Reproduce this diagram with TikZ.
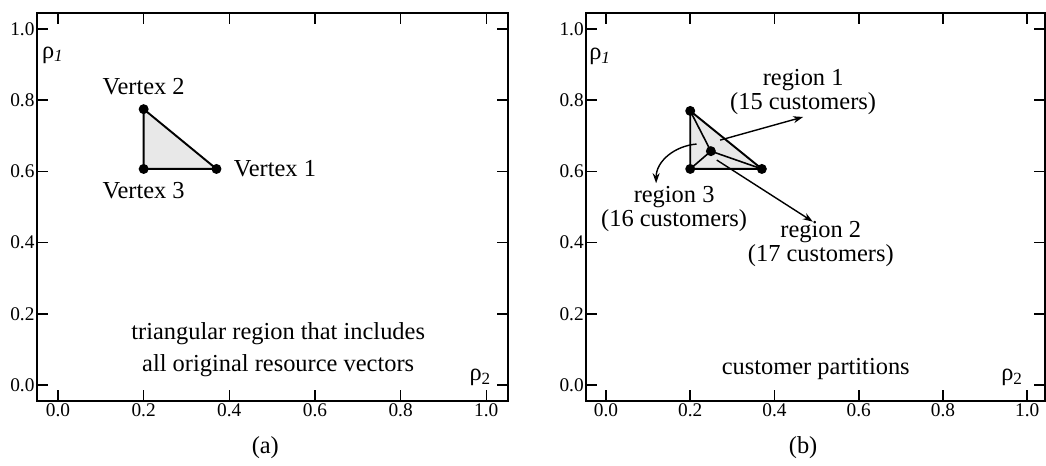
\documentclass[tikz,border=0pt]{standalone}
\usepackage{fontspec}
\setmainfont{Liberation Serif}
\usetikzlibrary{arrows.meta, positioning}
\tikzset{
  frameline/.style={line width=1.1pt},
  tickline/.style={line width=0.9pt},
  ticklabel/.style={font=\fontsize{11}{12}\selectfont, inner sep=1pt},
  axislabel/.style={font=\fontsize{13.9}{14}\selectfont, inner sep=0pt},
  txtlabel/.style={font=\fontsize{13.9}{12.5}\selectfont, inner sep=1pt, align=center},
  notetext/.style={font=\fontsize{13.9}{18.2}\selectfont, inner sep=1pt, align=center},
  captionlabel/.style={font=\fontsize{13.9}{14}\selectfont, inner sep=1pt},
  vertexdot/.style={circle, fill=black, inner sep=0pt, minimum size=0.2cm},
  triedge/.style={line width=1.1pt, line join=round},
  splitedge/.style={line width=0.9pt},
  stipple/.style={fill=black!9},
  regionarrow/.style={-{Stealth[length=0.2cm, width=0.14cm]}, line width=0.8pt}
}

\begin{document}
\begin{tikzpicture}[x=0.02cm, y=-0.02cm]
  \useasboundingbox (0,0) rectangle (1046,466);

  % Panel (a): bounding triangle
  \begin{scope}[shift={(58,385)}, x=8.568cm, y=7.12cm]
    \draw[frameline] (-0.05,-0.045) rectangle (1.05,1.045);
    \foreach \t/\s [count=\i] in {0/0.0,0.2/0.2,0.4/0.4,0.6/0.6,0.8/0.8,1/1.0} {
      \draw[tickline] (\t,-0.045) -- ++(0,0.22cm);
      \draw[tickline] (\t,1.045) -- ++(0,-0.22cm);
      \draw[tickline] (-0.05,\t) -- ++(0.22cm,0);
      \draw[tickline] (1.05,\t) -- ++(-0.22cm,0);
      \node[ticklabel, anchor=east] (ay\i) at (-0.05,\t) {\s};
      \node[ticklabel] (ax\i) at (\t,-0.07) {\s};
    }

    \coordinate (a1) at (0.37,0.607);
    \coordinate (a2) at (0.2,0.775);
    \coordinate (a3) at (0.2,0.607);
    \fill[stipple] (a1) -- (a2) -- (a3) -- cycle;
    \draw[triedge] (a1) -- (a2) -- (a3) -- cycle;
    \node[vertexdot] (da1) at (a1) {};
    \node[vertexdot] (da2) at (a2) {};
    \node[vertexdot] (da3) at (a3) {};

    \node[txtlabel, right=0.2cm of da1] (va1) {Vertex 1};
    \node[txtlabel, above=0.13cm of da2] (va2) {Vertex 2};
    \node[txtlabel, below=0.12cm of da3] (va3) {Vertex 3};

    \node[axislabel] (rho1a) at (-0.012,0.927) {ρ\textsubscript{\textit{1}}};
    \node[axislabel] (rho2a) at (0.986,0.022) {ρ\textsubscript{2}};
    \node[notetext] (notea) at (0.514,0.1)
      {triangular region that includes\\all original resource vectors};
    \node[captionlabel] (capa) at (0.484,-0.177) {(a)};
  \end{scope}

  % Panel (b): customer partitions
  \begin{scope}[shift={(606,385)}, x=8.426cm, y=7.12cm]
    \draw[frameline] (-0.048,-0.045) rectangle (1.043,1.045);
    \foreach \t/\s [count=\i] in {0/0.0,0.2/0.2,0.4/0.4,0.6/0.6,0.8/0.8,1/1.0} {
      \draw[tickline] (\t,-0.045) -- ++(0,0.22cm);
      \draw[tickline] (\t,1.045) -- ++(0,-0.22cm);
      \draw[tickline] (-0.048,\t) -- ++(0.22cm,0);
      \draw[tickline] (1.043,\t) -- ++(-0.22cm,0);
      \node[ticklabel, anchor=east] (by\i) at (-0.048,\t) {\s};
      \node[ticklabel] (bx\i) at (\t,-0.07) {\s};
    }

    \coordinate (b1) at (0.37,0.607);
    \coordinate (b2) at (0.2,0.77);
    \coordinate (b3) at (0.2,0.607);
    \coordinate (bc) at (0.249,0.657);
    \fill[stipple] (b1) -- (b2) -- (b3) -- cycle;
    \draw[triedge] (b1) -- (b2) -- (b3) -- cycle;
    \draw[splitedge] (bc) -- (b1);
    \draw[splitedge] (bc) -- (b2);
    \draw[splitedge] (bc) -- (b3);
    \node[vertexdot] (db1) at (b1) {};
    \node[vertexdot] (db2) at (b2) {};
    \node[vertexdot] (db3) at (b3) {};
    \node[vertexdot] (dbc) at (bc) {};

    % Region pointers
    \coordinate (r1from) at (0.271,0.688);
    \coordinate (r1tip)  at (0.468,0.753);
    \coordinate (r2from) at (0.263,0.632);
    \coordinate (r2tip)  at (0.491,0.459);
    \coordinate (r3from) at (0.215,0.677);
    \coordinate (r3tip)  at (0.119,0.567);
    \draw[regionarrow] (r1from) -- (r1tip);
    \draw[regionarrow] (r2from) -- (r2tip);
    \draw[regionarrow] (r3from) to[out=185, in=90] (r3tip);

    \node[txtlabel, above=0cm of r1tip] (reg1) {region 1\\(15 customers)};
    \node[txtlabel, below=-0.05cm of r2tip, xshift=0.16cm] (reg2) {region 2\\(17 customers)};
    \node[txtlabel, below=0.03cm of r3tip, xshift=0.36cm] (reg3) {region 3\\(16 customers)};

    \node[axislabel] (rho1b) at (-0.014,0.924) {ρ\textsubscript{\textit{1}}};
    \node[axislabel] (rho2b) at (0.964,0.022) {ρ\textsubscript{2}};
    \node[notetext] (noteb) at (0.498,0.045) {customer partitions};
    \node[captionlabel] (capb) at (0.468,-0.177) {(b)};
  \end{scope}

\end{tikzpicture}
\end{document}
